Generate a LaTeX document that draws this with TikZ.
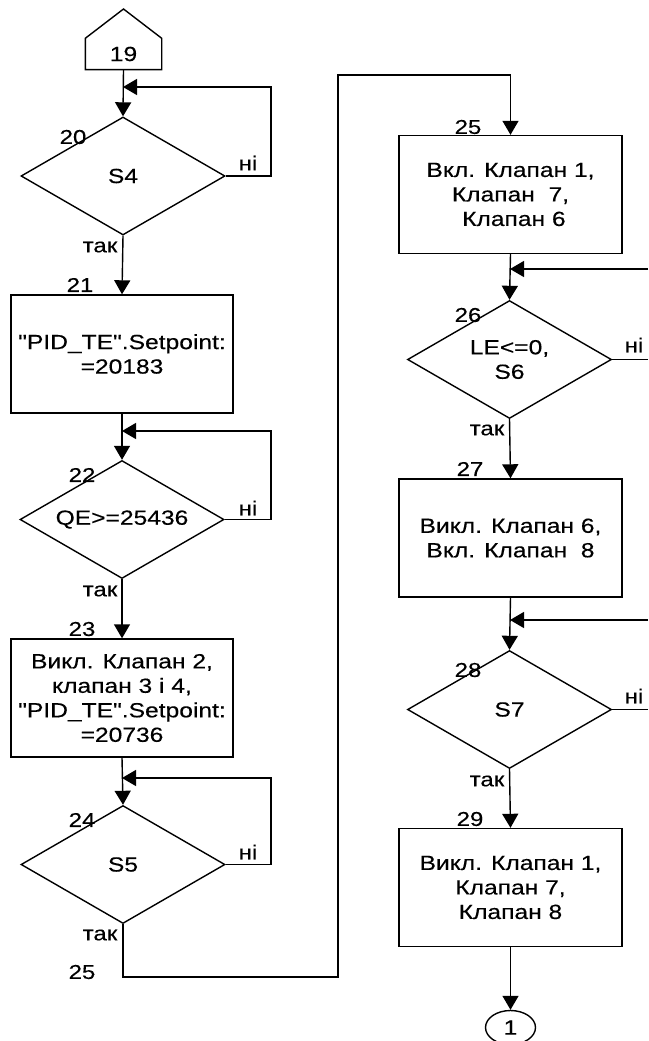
\documentclass[tikz,border=0pt]{standalone}
\usepackage{fontspec}
\setmainfont{Liberation Sans}[FakeBold=0.3]
\usetikzlibrary{shapes.geometric,arrows.meta}
\newcommand{\sx}[1]{\scalebox{1.2}[1]{#1}}
\newcommand{\qd}{\textquotedbl}
\begin{document}
\begin{tikzpicture}[x=1pt,y=-1pt,
  line width=1.4pt,
  every node/.style={font=\fontsize{20.5}{24.5}\selectfont},
  block/.style={draw,rectangle,minimum width=222pt,minimum height=118pt,align=center,inner sep=0pt},
  decide/.style={draw,diamond,shape aspect=1.73,minimum width=204pt,minimum height=118pt,align=center,inner sep=0pt},
  tag/.style={font=\fontsize{20}{22}\selectfont,inner sep=0pt},
  arr/.style={-{Triangle[length=14pt,width=16pt]}}
]
\useasboundingbox (0,0) rectangle (648,1041);

% left column
\node[rectangle,minimum width=75pt,minimum height=30pt,inner sep=0pt] (n19) at (123.5,54) {\sx{19}};
\draw (n19.south west) -- (n19.north west) -- (123.5,9) -- (n19.north east) -- (n19.south east) -- cycle;

\node[decide] (d20) at (123,176) {\sx{S4}};
\node[block] (b21) at (122,354) {\sx{\qd PID\_TE\qd.Setpoint:}\\\sx{=20183}};
\node[decide] (d22) at (122,519.5) {\sx{QE>=25436}};
\node[block] (b23) at (122,698) {\sx{Викл. Клапан 2,}\\\sx{клапан 3 і 4,}\\\sx{\qd PID\_TE\qd.Setpoint:}\\\sx{=20736}};
\node[decide] (d24) at (123,864.5) {\sx{S5}};

% right column
\node[block,minimum width=223pt] (b25) at (510.5,194.5) {\sx{Вкл. Клапан 1,}\\\sx{Клапан\ \ 7,}\\\sx{\ Клапан 6}};
\node[decide] (d26) at (509.5,359.5) {\sx{LE<=0,}\\\sx{S6}};
\node[block,minimum width=223pt] (b27) at (510.5,538) {\sx{Викл. Клапан 6,}\\\sx{Вкл. Клапан\ \ 8}};
\node[decide] (d28) at (509.5,709.5) {\sx{S7}};
\node[block,minimum width=223pt] (b29) at (510.5,887.5) {\sx{Викл. Клапан 1,}\\\sx{Клапан 7,}\\\sx{Клапан 8}};
\node[draw,ellipse,minimum width=50pt,minimum height=34pt,inner sep=0pt] (c1) at (510.5,1027.5) {\sx{1}};

% step number labels
\node[tag] (l20) at (73,137) {\sx{20}};
\node[tag] (l21) at (80,285) {\sx{21}};
\node[tag] (l22) at (82,475) {\sx{22}};
\node[tag] (l23) at (82,629) {\sx{23}};
\node[tag] (l24) at (82,820) {\sx{24}};
\node[tag] (l25a) at (82,972) {\sx{25}};
\node[tag] (l25b) at (468,127) {\sx{25}};
\node[tag] (l26) at (468,315) {\sx{26}};
\node[tag] (l27) at (470,469) {\sx{27}};
\node[tag] (l28) at (468,670) {\sx{28}};
\node[tag] (l29) at (470,819) {\sx{29}};

% yes / no labels
\node[tag] (y20) at (100,247) {\sx{так}};
\node[tag] (y22) at (100,591) {\sx{так}};
\node[tag] (y24) at (100,935) {\sx{так}};
\node[tag] (y26) at (487,430) {\sx{так}};
\node[tag] (y28) at (487,781) {\sx{так}};
\node[tag] (no20) at (248,163) {\sx{ні}};
\node[tag] (no22) at (248,508) {\sx{ні}};
\node[tag] (no24) at (248,852) {\sx{ні}};
\node[tag] (no26) at (634,345) {\sx{ні}};
\node[tag] (no28) at (634,696) {\sx{ні}};

% junction coordinates
\coordinate (j20) at (123,87);
\coordinate (j22) at (122,431);
\coordinate (j24) at (122,778);
\coordinate (j26) at (510,269);
\coordinate (j28) at (510,620);
\coordinate (e26) at (648,359.5);
\coordinate (e26t) at (648,269);
\coordinate (e28) at (648,709.5);
\coordinate (e28t) at (648,620);
\coordinate (t24) at (123,977);
\coordinate (r24) at (338,75);

% main flow
\draw[arr] (n19.south) -- (d20.north);
\draw[arr] (d20.south) -- (b21.north);
\draw[arr] (b21.south) -- (d22.north);
\draw[arr] (d22.south) -- (b23.north);
\draw[arr] (b23.south) -- (d24.north);
\draw[arr] (d24.south) -- (t24) -| (r24) -| (b25.north);
\draw[arr] (b25.south) -- (d26.north);
\draw[arr] (d26.south) -- (b27.north);
\draw[arr] (b27.south) -- (d28.north);
\draw[arr] (d28.south) -- (b29.north);
\draw[arr] (b29.south) -- (c1.north);

% loops
\draw[arr] (d20.east) -- (271,176) |- (j20);
\draw[arr] (d22.east) -- (271,519.5) |- (j22);
\draw[arr] (d24.east) -- (271,864.5) |- (j24);
\draw (d26.east) -- (e26);
\draw[arr] (e26t) -- (j26);
\draw (d28.east) -- (e28);
\draw[arr] (e28t) -- (j28);
\end{tikzpicture}
\end{document}
